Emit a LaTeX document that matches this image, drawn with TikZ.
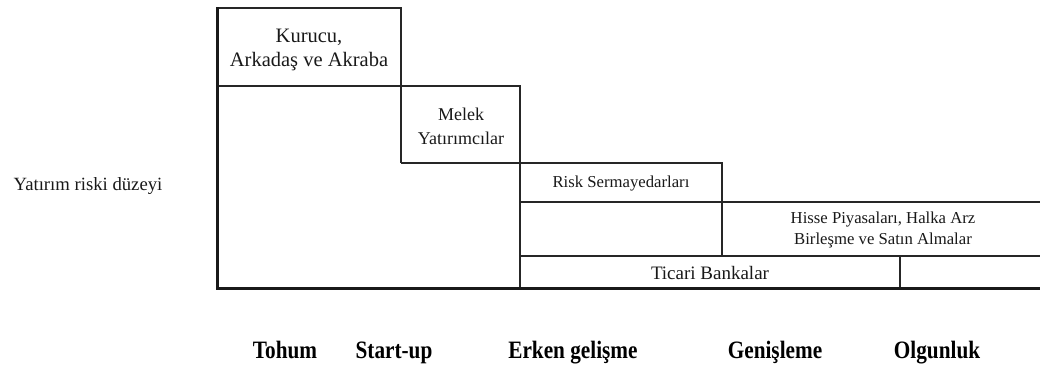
\documentclass[tikz,border=0pt]{standalone}
\usepackage{fontspec}
\setmainfont{Liberation Serif}
\newfontfamily\stagefont[FakeStretch=0.85]{Liberation Serif Bold}
\begin{document}
\begin{tikzpicture}[x=1pt,y=-1pt,
  boxline/.style={draw=black!85, line width=1.6pt},
  axisline/.style={draw=black!90, line width=3pt},
  lbl/.style={inner sep=0pt, align=center, text=black!90},
  stage/.style={inner sep=0pt, anchor=base, text=black, font=\stagefont\fontsize{25}{28}\selectfont}]
\useasboundingbox (0,0) rectangle (1040,383);
% boxes
\draw[boxline] (217,8) -- (401,8) -- (401,163);
\draw[boxline] (217,86) -- (520,86) -- (520,287);
\draw[boxline] (401,163) -- (722,163) -- (722,256);
\draw[boxline] (520,202) -- (1040,202);
\draw[boxline] (520,256) -- (1040,256);
\draw[boxline] (900,256) -- (900,287);
% axes
\draw[axisline] (217,7) -- (217,288.5) -- (1040,288.5);
% labels
\node[lbl, font=\fontsize{20.5}{24}\selectfont] (kur) at (309,50) {Kurucu,\\Arkadaş ve Akraba};
\node[lbl, font=\fontsize{18}{24}\selectfont] (mel) at (461,126) {Melek\\Yatırımcılar};
\node[lbl, font=\fontsize{16.7}{20}\selectfont] (risk) at (621,184) {Risk Sermayedarları};
\node[lbl, font=\fontsize{16.7}{21}\selectfont] (hisse) at (883,230) {Hisse Piyasaları, Halka Arz\\Birleşme ve Satın Almalar};
\node[lbl, font=\fontsize{19}{22}\selectfont] (tic) at (710,273) {Ticari Bankalar};
\node[lbl, font=\fontsize{18.7}{22}\selectfont] (risklvl) at (88,186) {Yatırım riski düzeyi};
\node[stage] (s1) at (285,358) {Tohum};
\node[stage] (s2) at (394,358) {Start-up};
\node[stage] (s3) at (573,358) {Erken gelişme};
\node[stage] (s4) at (775,358) {Genişleme};
\node[stage] (s5) at (937,358) {Olgunluk};
\end{tikzpicture}
\end{document}
